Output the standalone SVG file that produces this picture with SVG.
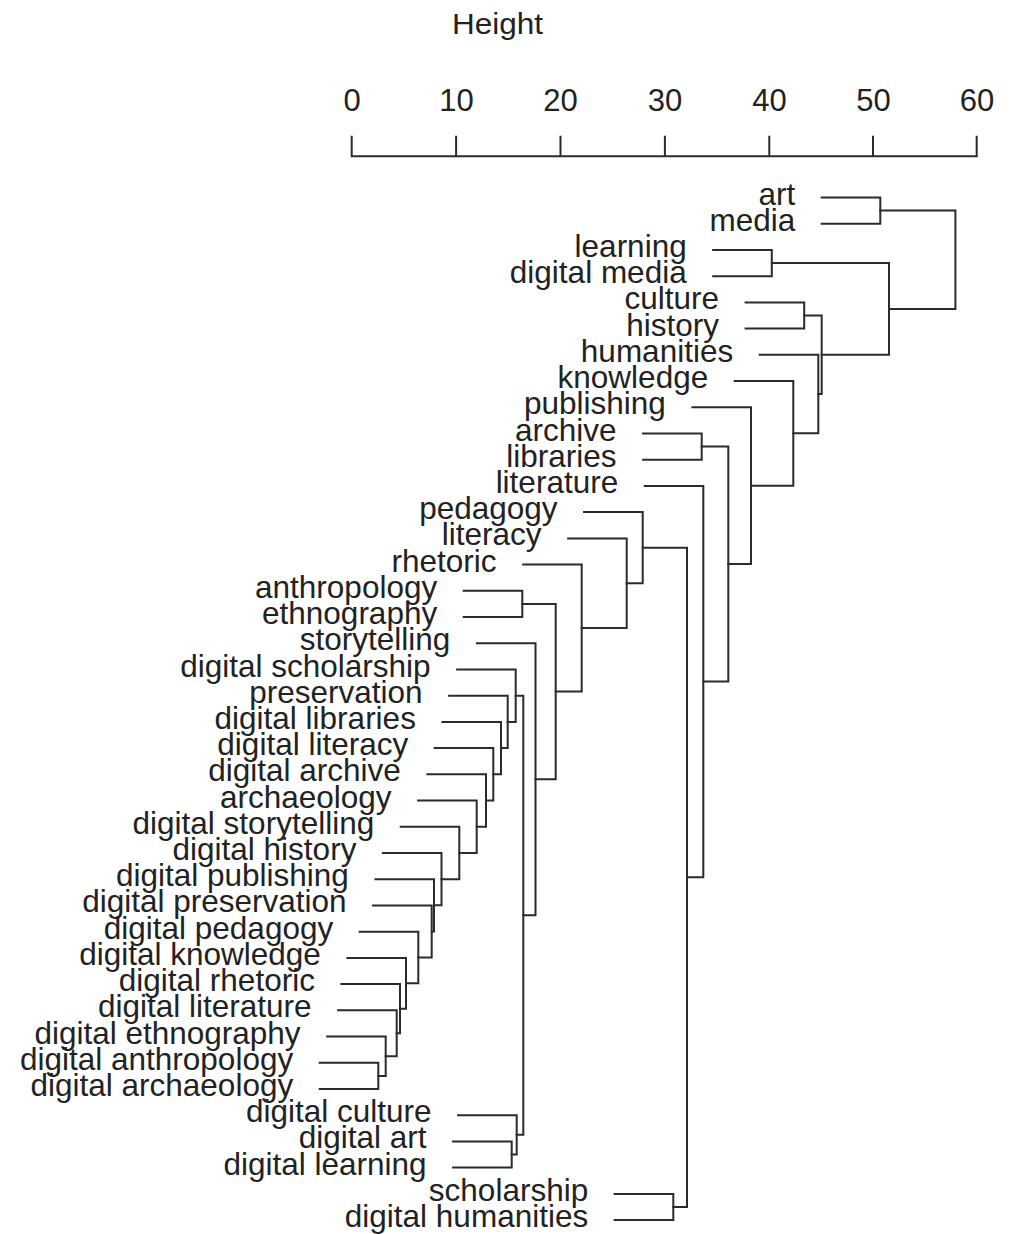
<svg xmlns="http://www.w3.org/2000/svg" width="1010" height="1234" viewBox="0 0 1010 1234">
<style>
.bg{fill:#ffffff}
text{font-family:"Liberation Sans",Arial,Helvetica,sans-serif;fill:#222222}
.lab{font-size:31.5px;text-anchor:end}
.tick{font-size:31px;text-anchor:middle}
.ttl{font-size:30px;text-anchor:middle}
.ln{fill:none;stroke:#2b2b2b;stroke-width:2;stroke-linecap:square;stroke-linejoin:miter}
</style>
<rect class="bg" x="0" y="0" width="1010" height="1234"/>
<g id="axis">
<text class="ttl" x="497.5" y="34" textLength="91" lengthAdjust="spacingAndGlyphs">Height</text>
<path class="ln" d="M351.7 156.3H976.7M351.7 136.7V156.3M456.1 136.7V156.3M560.5 136.7V156.3M664.9 136.7V156.3M769.3 136.7V156.3M873 136.7V156.3M976.7 136.7V156.3"/>
<text class="tick" x="352" y="111">0</text>
<text class="tick" x="456.5" y="111">10</text>
<text class="tick" x="560.5" y="111">20</text>
<text class="tick" x="665" y="111">30</text>
<text class="tick" x="769.5" y="111">40</text>
<text class="tick" x="873.5" y="111">50</text>
<text class="tick" x="977" y="111">60</text>
</g>
<g id="leaves">
<g id="leaf-art"><text class="lab" x="795.2" y="204.5">art</text></g>
<g id="leaf-media"><text class="lab" x="795.2" y="230.7">media</text></g>
<g id="leaf-learning"><text class="lab" x="686.7" y="256.9">learning</text></g>
<g id="leaf-digital-media"><text class="lab" x="686.7" y="283.2">digital media</text></g>
<g id="leaf-culture"><text class="lab" x="719.1" y="309.4">culture</text></g>
<g id="leaf-history"><text class="lab" x="719.1" y="335.6">history</text></g>
<g id="leaf-humanities"><text class="lab" x="733.2" y="361.8">humanities</text></g>
<g id="leaf-knowledge"><text class="lab" x="708.2" y="388">knowledge</text></g>
<g id="leaf-publishing"><text class="lab" x="665.9" y="414.3">publishing</text></g>
<g id="leaf-archive"><text class="lab" x="616.6" y="440.5">archive</text></g>
<g id="leaf-libraries"><text class="lab" x="616.6" y="466.7">libraries</text></g>
<g id="leaf-literature"><text class="lab" x="618.2" y="492.9">literature</text></g>
<g id="leaf-pedagogy"><text class="lab" x="557.6" y="519.1">pedagogy</text></g>
<g id="leaf-literacy"><text class="lab" x="541.6" y="545.4">literacy</text></g>
<g id="leaf-rhetoric"><text class="lab" x="496.6" y="571.6">rhetoric</text></g>
<g id="leaf-anthropology"><text class="lab" x="437.2" y="597.8">anthropology</text></g>
<g id="leaf-ethnography"><text class="lab" x="437.2" y="624">ethnography</text></g>
<g id="leaf-storytelling"><text class="lab" x="450.4" y="650.2">storytelling</text></g>
<g id="leaf-digital-scholarship"><text class="lab" x="430.6" y="676.5">digital scholarship</text></g>
<g id="leaf-preservation"><text class="lab" x="422.6" y="702.7">preservation</text></g>
<g id="leaf-digital-libraries"><text class="lab" x="415.9" y="728.9">digital libraries</text></g>
<g id="leaf-digital-literacy"><text class="lab" x="408.2" y="755.1">digital literacy</text></g>
<g id="leaf-digital-archive"><text class="lab" x="400.9" y="781.3">digital archive</text></g>
<g id="leaf-archaeology"><text class="lab" x="391.6" y="807.6">archaeology</text></g>
<g id="leaf-digital-storytelling"><text class="lab" x="374.2" y="833.8">digital storytelling</text></g>
<g id="leaf-digital-history"><text class="lab" x="356.4" y="860">digital history</text></g>
<g id="leaf-digital-publishing"><text class="lab" x="348.9" y="886.2">digital publishing</text></g>
<g id="leaf-digital-preservation"><text class="lab" x="346.6" y="912.4">digital preservation</text></g>
<g id="leaf-digital-pedagogy"><text class="lab" x="333.2" y="938.7">digital pedagogy</text></g>
<g id="leaf-digital-knowledge"><text class="lab" x="320.9" y="964.9">digital knowledge</text></g>
<g id="leaf-digital-rhetoric"><text class="lab" x="314.9" y="991.1">digital rhetoric</text></g>
<g id="leaf-digital-literature"><text class="lab" x="311.6" y="1017.3">digital literature</text></g>
<g id="leaf-digital-ethnography"><text class="lab" x="300.6" y="1043.5">digital ethnography</text></g>
<g id="leaf-digital-anthropology"><text class="lab" x="293.2" y="1069.8">digital anthropology</text></g>
<g id="leaf-digital-archaeology"><text class="lab" x="293.2" y="1096">digital archaeology</text></g>
<g id="leaf-digital-culture"><text class="lab" x="431.6" y="1122.2">digital culture</text></g>
<g id="leaf-digital-art"><text class="lab" x="426.6" y="1148.4">digital art</text></g>
<g id="leaf-digital-learning"><text class="lab" x="426.6" y="1174.6">digital learning</text></g>
<g id="leaf-scholarship"><text class="lab" x="588.2" y="1200.9">scholarship</text></g>
<g id="leaf-digital-humanities"><text class="lab" x="588.2" y="1227.1">digital humanities</text></g>
</g>
<g id="connectors" class="ln">
<path id="n1" d="M319.7 1062.8H378.3V1089H319.7"/>
<path id="n2" d="M327.1 1036.5H385.7V1075.9H378.3"/>
<path id="n3" d="M338.1 1010.3H396.7V1056.2H385.7"/>
<path id="n4" d="M341.4 984.1H400V1033.25H396.7"/>
<path id="n5" d="M347.4 957.9H406V1008.7H400"/>
<path id="n6" d="M359.7 931.7H418.3V983.3H406"/>
<path id="n7" d="M373.1 905.4H431.7V957.5H418.3"/>
<path id="n8" d="M375.4 879.2H434V931.45H431.7"/>
<path id="n9" d="M382.9 853H441.5V905.3H434"/>
<path id="n10" d="M400.7 826.8H459.3V879.15H441.5"/>
<path id="n11" d="M418.1 800.6H476.7V853H459.3"/>
<path id="n12" d="M427.4 774.3H486V826.8H476.7"/>
<path id="n13" d="M434.7 748.1H493.3V800.55H486"/>
<path id="n14" d="M442.4 721.9H501V774.3H493.3"/>
<path id="n15" d="M449.1 695.7H507.7V748.1H501"/>
<path id="n16" d="M457.1 669.5H515.7V721.9H507.7"/>
<path id="n18" d="M453.1 1141.4H511.7V1167.6H453.1"/>
<path id="n19" d="M458.1 1115.2H516.7V1154.5H511.7"/>
<path id="n17" d="M515.7 695.7H523.3V1134.85H516.7"/>
<path id="n20" d="M476.9 643.2H535.5V915.3H523.3"/>
<path id="n21" d="M463.7 590.8H522.3V617H463.7"/>
<path id="n22" d="M522.3 603.9H555.7V779.25H535.5"/>
<path id="n23" d="M523.1 564.6H581.7V691.6H555.7"/>
<path id="n24" d="M568.1 538.4H626.7V628.1H581.7"/>
<path id="n25" d="M584.1 512.1H642.7V583.25H626.7"/>
<path id="n26" d="M614.7 1193.9H673.3V1220.1H614.7"/>
<path id="n27" d="M642.7 547.7H687V1207H673.3"/>
<path id="n28" d="M644.7 485.9H703.3V877.35H687"/>
<path id="n29" d="M643.1 433.5H701.7V459.7H643.1"/>
<path id="n30" d="M701.7 446.6H728.3V681.6H703.3"/>
<path id="n31" d="M692.4 407.3H751V564.1H728.3"/>
<path id="n32" d="M734.7 381H793.3V485.7H751"/>
<path id="n33" d="M759.7 354.8H818.3V433.35H793.3"/>
<path id="n34" d="M745.6 302.4H804.2V328.6H745.6"/>
<path id="n35" d="M804.2 315.5H821.7V394.1H818.3"/>
<path id="n36" d="M713.2 249.9H771.8V276.2H713.2"/>
<path id="n37" d="M771.8 263.05H889V354.8H821.7"/>
<path id="n38" d="M821.7 197.5H880.3V223.7H821.7"/>
<path id="root" d="M880.3 210.6H955.4V308.9H889"/>
</g>
</svg>
